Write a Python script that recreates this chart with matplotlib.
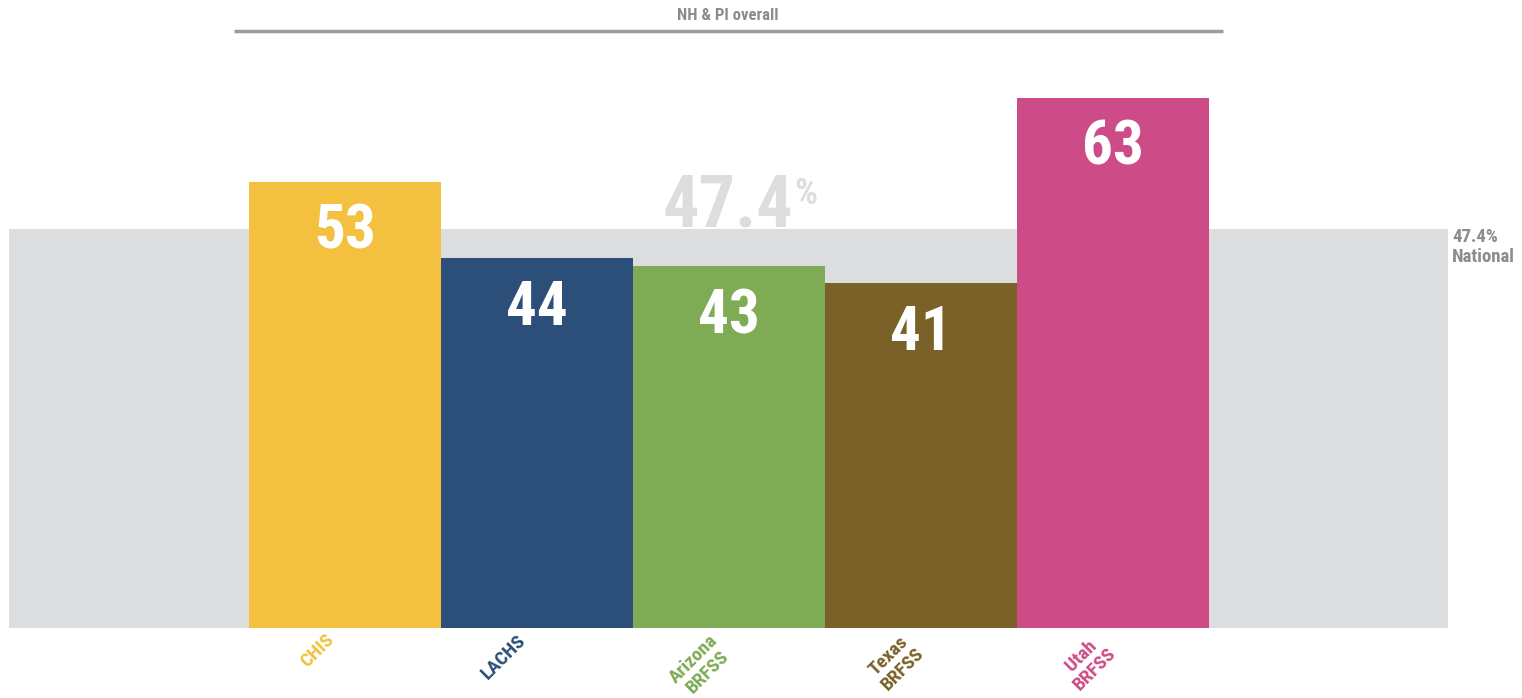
import matplotlib.pyplot as plt
from matplotlib import font_manager

# Data
categories = ['CHIS', 'LACHS', 'Arizona\nBRFSS', 'Texas\nBRFSS', 'Utah\nBRFSS']
values = [53, 44, 43, 41, 63]
national = 47.4
group_label = 'NH & PI overall'

colors = ['#F3C13F', '#2B4F78', '#80AB55', '#7A6127', '#CD4C88']
band_color = '#DCDDDF'
text_gray = '#8C8C8F'

# narrow font if one is around, else condensed DejaVu
names = {f.name for f in font_manager.fontManager.ttflist}
narrow = [n for n in ['Liberation Sans Narrow', 'Roboto Condensed', 'Open Sans Condensed'] if n in names]
plt.rcParams['font.family'] = narrow + ['DejaVu Sans']
plt.rcParams['font.stretch'] = 'condensed'

W, H = 1522, 698
fig = plt.figure(figsize=(W / 100, H / 100), dpi=100)
# axes spans the grey band horizontally, baseline at y=628 px
ax = fig.add_axes([9 / W, (H - 628) / H, (1448 - 9) / W, 628 / H])
px_per_unit = 399 / national
ax.set_ylim(0, 628 / px_per_unit)
ax.set_xlim((9 - 345) / 192, (1448 - 345) / 192)
ax.axis('off')

# national band
xl = ax.get_xlim()
ax.bar((xl[0] + xl[1]) / 2, national, width=xl[1] - xl[0], color=band_color, zorder=0)

# watermark
ax.text((728 - 345) / 192, national + 0.25, f'{national}', color=band_color, fontsize=52,
        fontweight='bold', ha='center', va='baseline', zorder=1)
ax.text((794 - 345) / 192, national + 3.0, '%', color=band_color, fontsize=26,
        fontweight='bold', ha='left', va='baseline', zorder=1)

x = list(range(len(values)))
ax.bar(x, values, width=1.0, color=colors, zorder=2)

for xi, v in zip(x, values):
    ax.text(xi, v - 50 / px_per_unit, f'{v}', color='white', fontsize=44,
            fontweight='bold', ha='center', va='center', zorder=3)

for xi, lab, c in zip(x, categories, colors):
    ax.text(xi - 20 / 192, -3 / px_per_unit, lab, color=c, fontsize=14, fontweight='bold',
            rotation=45, ha='right', va='top', rotation_mode='anchor',
            multialignment='center', linespacing=1.1, zorder=3)

# group line + label
y_line = (628 - 31) / px_per_unit
ax.plot([(234 - 345) / 192, (1223 - 345) / 192], [y_line, y_line], color='#9B9B9E',
        linewidth=2.5, clip_on=False, solid_capstyle='butt')
ax.text((728 - 345) / 192, y_line + 8 / px_per_unit, group_label, color=text_gray, fontsize=12,
        fontweight='bold', ha='center', va='bottom')

ax.text(xl[1] + 4 / 192, national + 0.1, f'{national}%\nNational', color=text_gray,
        fontsize=13.5, fontweight='bold', ha='left', va='top', linespacing=1.15,
        clip_on=False)

fig.savefig('out.png', dpi=100)
